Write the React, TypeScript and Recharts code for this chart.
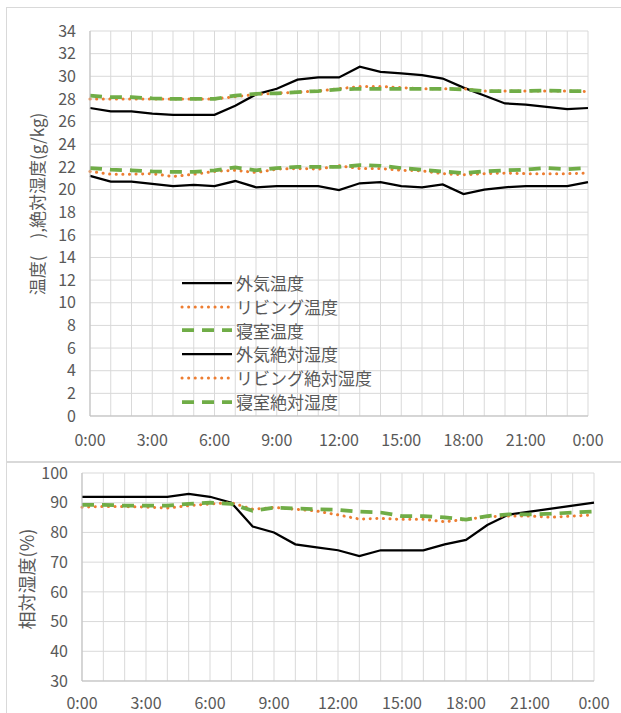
import React from "react";
import { LineChart, Line, XAxis, YAxis, CartesianGrid } from "recharts";

const hours = [0, 1, 2, 3, 4, 5, 6, 7, 8, 9, 10, 11, 12, 13, 14, 15, 16, 17, 18, 19, 20, 21, 22, 23, 24];
const xTicks = [0, 3, 6, 9, 12, 15, 18, 21, 24];
const xTickLabels = ["0:00", "3:00", "6:00", "9:00", "12:00", "15:00", "18:00", "21:00", "0:00"];
const topYTicks = [0, 2, 4, 6, 8, 10, 12, 14, 16, 18, 20, 22, 24, 26, 28, 30, 32, 34];
const rhYTicks = [30, 40, 50, 60, 70, 80, 90, 100];

// temperature (deg C)
const outdoorTemp = [27.2, 26.9, 26.9, 26.7, 26.6, 26.6, 26.6, 27.4, 28.4, 28.9, 29.7, 29.9, 29.9, 30.85, 30.4, 30.25, 30.1, 29.8, 29.0, 28.3, 27.6, 27.5, 27.3, 27.1, 27.2];
const livingTemp = [28.0, 28.0, 28.0, 28.0, 28.0, 28.0, 28.0, 28.2, 28.4, 28.5, 28.6, 28.7, 28.9, 29.1, 29.1, 29.0, 28.9, 28.9, 28.9, 28.7, 28.7, 28.7, 28.7, 28.7, 28.65];
const bedroomTemp = [28.3, 28.15, 28.15, 28.05, 28.0, 28.0, 28.0, 28.3, 28.45, 28.5, 28.6, 28.7, 28.85, 28.9, 28.9, 28.9, 28.9, 28.9, 28.85, 28.7, 28.7, 28.7, 28.75, 28.7, 28.7];
// absolute humidity (g/kg)
const outdoorAbs = [21.2, 20.7, 20.7, 20.5, 20.3, 20.4, 20.3, 20.75, 20.2, 20.3, 20.3, 20.3, 19.95, 20.55, 20.65, 20.3, 20.2, 20.45, 19.6, 20.0, 20.2, 20.3, 20.3, 20.3, 20.65];
const livingAbs = [21.6, 21.35, 21.35, 21.4, 21.15, 21.35, 21.6, 21.7, 21.5, 21.8, 21.85, 21.8, 22.1, 21.85, 21.85, 21.7, 21.65, 21.4, 21.3, 21.4, 21.45, 21.4, 21.4, 21.4, 21.45];
const bedroomAbs = [21.9, 21.75, 21.7, 21.6, 21.55, 21.55, 21.7, 21.95, 21.7, 21.9, 22.0, 22.0, 22.0, 22.15, 22.1, 21.9, 21.75, 21.6, 21.45, 21.6, 21.7, 21.75, 21.9, 21.8, 21.9];
// relative humidity (%)
const outdoorRH = [92, 92, 92, 92, 92, 93, 92, 90, 82, 80, 76, 75, 74, 72, 74, 74, 74, 76, 77.5, 82.5, 86, 87, 88, 89, 90];
const livingRH = [88.5, 88.7, 88.7, 88.5, 88.2, 89, 89.6, 90, 87.8, 88.4, 87.8, 87.2, 85.9, 84.5, 84.7, 84.4, 84.4, 83.6, 84.4, 85.3, 85.5, 85.5, 85.1, 85.5, 85.9];
const bedroomRH = [89.3, 89.3, 89, 89, 89, 89.6, 90, 89.6, 87.3, 88.3, 88.1, 87.8, 87.6, 87, 86.7, 85.5, 85.5, 85.1, 84.3, 85.5, 86.1, 86.1, 86.3, 86.7, 87];

const FONT = "'Noto Sans CJK JP', 'Noto Sans', sans-serif";
const TEXT = "#595959";
const GRID = "#d9d9d9";
const ORANGE = "#ed7d31";
const GREEN = "#70ad47";

const topData = hours.map((h, i) => ({
  hour: h,
  outdoorTemp: outdoorTemp[i],
  livingTemp: livingTemp[i],
  bedroomTemp: bedroomTemp[i],
  outdoorAbs: outdoorAbs[i],
  livingAbs: livingAbs[i],
  bedroomAbs: bedroomAbs[i],
}));

const rhData = hours.map((h, i) => ({
  hour: h,
  outdoorRH: outdoorRH[i],
  livingRH: livingRH[i],
  bedroomRH: bedroomRH[i],
}));

type Style = "solid" | "dot" | "dash";
const lineProps = (s: Style) => {
  if (s === "solid") return { stroke: "#000", strokeWidth: 2.25 };
  if (s === "dot") return { stroke: ORANGE, strokeWidth: 3, strokeDasharray: "0.1 6.5", strokeLinecap: "round" as const };
  return { stroke: GREEN, strokeWidth: 3.75, strokeDasharray: "12 8" };
};

const topSeries: { key: string; name: string; style: Style }[] = [
  { key: "outdoorTemp", name: "外気温度", style: "solid" },
  { key: "livingTemp", name: "リビング温度", style: "dot" },
  { key: "bedroomTemp", name: "寝室温度", style: "dash" },
  { key: "outdoorAbs", name: "外気絶対湿度", style: "solid" },
  { key: "livingAbs", name: "リビング絶対湿度", style: "dot" },
  { key: "bedroomAbs", name: "寝室絶対湿度", style: "dash" },
];

const rhSeries: { key: string; name: string; style: Style }[] = [
  { key: "outdoorRH", name: "外気相対湿度", style: "solid" },
  { key: "livingRH", name: "リビング相対湿度", style: "dot" },
  { key: "bedroomRH", name: "寝室相対湿度", style: "dash" },
];

function TimeTick(props: any) {
  const { x, y, payload } = props;
  const idx = xTicks.indexOf(payload.value);
  if (idx < 0) return <g />;
  return (
    <text x={x} y={y} dy="0.71em" textAnchor="middle" fill={TEXT} fontSize={16} fontFamily={FONT}>
      {xTickLabels[idx]}
    </text>
  );
}

function SeriesLegend() {
  return (
    <div style={{ position: "absolute", left: 180, top: 271, fontFamily: FONT, fontSize: 17, color: TEXT }}>
      {topSeries.map((s) => {
        const p = lineProps(s.style);
        return (
          <div key={s.key} style={{ display: "flex", alignItems: "center", height: 23.8 }}>
            <svg width={56} height={12}>
              <line x1={2} y1={6} x2={52} y2={6} {...p} />
            </svg>
            <span style={{ lineHeight: "23.8px" }}>{s.name}</span>
          </div>
        );
      })}
    </div>
  );
}

const axisTick = { fill: TEXT, fontSize: 16, fontFamily: FONT };

export default function App() {
  return (
    <div style={{ position: "absolute", left: 0, top: 0, width: 621, height: 713, background: "#fff", overflow: "hidden" }}>
      <div style={{ position: "absolute", left: 6, top: 7, width: 640, height: 455, border: `1px solid ${GRID}`, boxSizing: "border-box" }} />
      <div style={{ position: "absolute", left: 6, top: 462, width: 640, height: 280, border: `1px solid ${GRID}`, boxSizing: "border-box" }} />

      <div style={{ position: "absolute", left: 0, top: 0 }}>
        <LineChart width={621} height={462} data={topData} margin={{ top: 31, right: 33, left: 0, bottom: 16 }} style={{ overflow: "visible" }}>
          <CartesianGrid stroke={GRID} strokeWidth={1} />
          <XAxis
            dataKey="hour"
            type="number"
            domain={[0, 24]}
            ticks={hours}
            interval={0}
            tick={<TimeTick />}
            tickLine={false}
            tickSize={0}
            tickMargin={19}
            height={30}
            axisLine={{ stroke: "#bfbfbf" }}
          />
          <YAxis
            domain={[0, 34]}
            ticks={topYTicks}
            interval={0}
            width={90}
            tick={axisTick}
            tickLine={false}
            tickSize={0}
            tickMargin={14}
            axisLine={{ stroke: "#bfbfbf" }}
          />
          {topSeries.map((s) => (
            <Line
              key={s.key}
              dataKey={s.key}
              name={s.name}
              type="linear"
              dot={false}
              activeDot={false}
              isAnimationActive={false}
              {...lineProps(s.style)}
            />
          ))}
        </LineChart>
      </div>
      <SeriesLegend />

      <div style={{ position: "absolute", left: 0, top: 462 }}>
        <LineChart width={621} height={251} data={rhData} margin={{ top: 11, right: 27, left: 0, bottom: 2 }} style={{ overflow: "visible" }}>
          <CartesianGrid stroke={GRID} strokeWidth={1} />
          <XAxis
            dataKey="hour"
            type="number"
            domain={[0, 24]}
            ticks={hours}
            interval={0}
            tick={<TimeTick />}
            tickLine={false}
            tickSize={0}
            tickMargin={17}
            height={30}
            axisLine={{ stroke: "#bfbfbf" }}
          />
          <YAxis
            domain={[30, 100]}
            ticks={rhYTicks}
            interval={0}
            width={82}
            tick={axisTick}
            tickLine={false}
            tickSize={0}
            tickMargin={14}
            axisLine={{ stroke: "#bfbfbf" }}
          />
          {rhSeries.map((s) => (
            <Line
              key={s.key}
              dataKey={s.key}
              name={s.name}
              type="linear"
              dot={false}
              activeDot={false}
              isAnimationActive={false}
              {...lineProps(s.style)}
            />
          ))}
        </LineChart>
      </div>

      <div
        style={{
          position: "absolute",
          left: 36,
          top: 204,
          transform: "translate(-50%, -50%) rotate(-90deg)",
          whiteSpace: "pre",
          fontFamily: FONT,
          fontSize: 17,
          color: TEXT,
        }}
      >
        {"温度(\u2003),絶対湿度(g/kg)"}
      </div>
      <div
        style={{
          position: "absolute",
          left: 26,
          top: 579,
          transform: "translate(-50%, -50%) rotate(-90deg)",
          whiteSpace: "nowrap",
          fontFamily: FONT,
          fontSize: 18,
          color: TEXT,
        }}
      >
        相対湿度(%)
      </div>
    </div>
  );
}
